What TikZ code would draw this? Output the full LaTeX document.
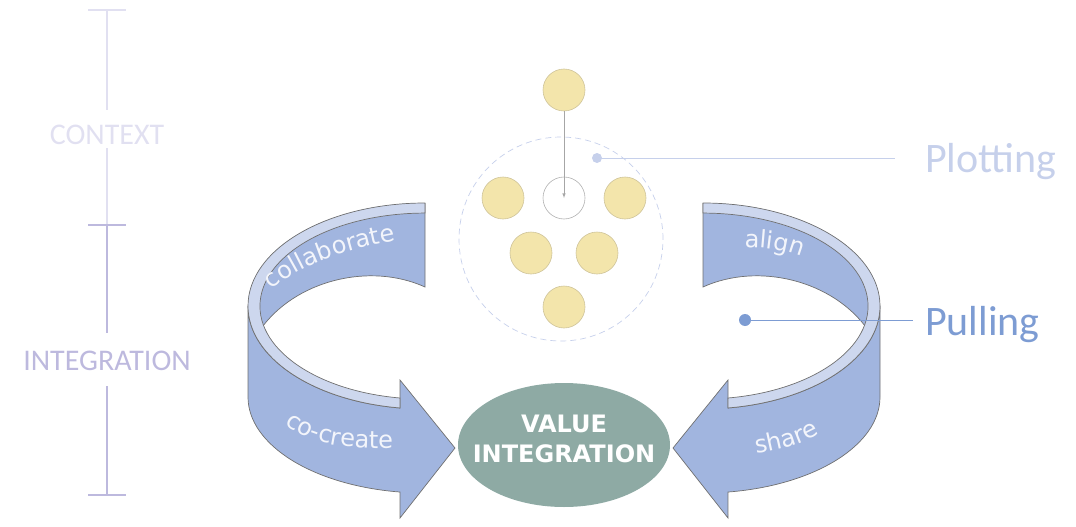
\documentclass[tikz,border=0pt]{standalone}
\usepackage{fontspec}
\setmainfont{Carlito}
\newfontfamily\ribbonfont{DejaVu Sans}
\usetikzlibrary{shapes.geometric,decorations.text}

\definecolor{bandblue}{HTML}{A1B5DF}
\definecolor{rimblue}{HTML}{CDD7EE}
\definecolor{edgegray}{HTML}{707070}
\definecolor{ribbontext}{HTML}{F3F5FB}
\definecolor{valuegreen}{HTML}{8EAAA4}
\definecolor{beadyellow}{HTML}{F3E5AB}
\definecolor{beadedge}{HTML}{CFC49A}
\definecolor{plotblue}{HTML}{C6D0EB}
\definecolor{pullblue}{HTML}{7D9CD3}
\definecolor{ctxlilac}{HTML}{E1E0F1}
\definecolor{intlilac}{HTML}{BDB9DE}

% one curled ribbon arrow, drawn for the left side
\newcommand{\curlarrow}{%
  % back band, seen from inside
  \fill[bandblue] (425,203) -- (425,287) .. controls (370,262) and (295,280) .. (260,330)
    -- (248,306) arc[start angle=180, end angle=90, x radius=177pt, y radius=103pt] -- cycle;
  \draw[edgegray, line width=0.7pt] (425,203) -- (425,287) .. controls (370,262) and (295,280) .. (260,330);
  % front band with its head
  \draw[band] (248,306) -- (248,397)
    arc[start angle=180, end angle=261.9, x radius=177pt, y radius=96pt]
    -- (400,518) -- (455,448) -- (400,380) -- (400,408)
    arc[start angle=261.9, end angle=180, x radius=177pt, y radius=103pt] -- cycle;
  % rim
  \draw[rim] (425,203) arc[start angle=90, end angle=261.9, x radius=177pt, y radius=103pt]
    -- (400,398) arc[start angle=261.3, end angle=90, x radius=165pt, y radius=93pt] -- cycle;
}

\begin{document}
\begin{tikzpicture}[x=1pt, y=-1pt, >=latex,
    band/.style={fill=bandblue, draw=edgegray, line width=0.7pt},
    rim/.style={fill=rimblue, draw=edgegray, line width=0.7pt},
    bead/.style={circle, minimum size=42pt, inner sep=0pt, fill=beadyellow, draw=beadedge, line width=0.6pt},
    slot/.style={circle, minimum size=42pt, inner sep=0pt, fill=white, draw=black!30, line width=0.6pt},
    ctxbar/.style={draw=ctxlilac, line width=1.6pt},
    intbar/.style={draw=intlilac, line width=1.6pt},
    barlabel/.style={font=\fontsize{30}{30}\selectfont, anchor=base, inner sep=0pt},
    sidelabel/.style={font=\fontsize{42}{42}\selectfont, anchor=base west, inner ysep=0pt},
    ribbon/.style={decorate, decoration={text along path, text align=center,
        text={|\ribbonfont\fontsize{24}{24}\selectfont\color{ribbontext}|#1}}}]
  \useasboundingbox (0,0) rectangle (1076,527);

  % scale bar
  \draw[ctxbar] (88,10) -- (126,10);
  \draw[ctxbar] (107,10) -- (107,110);
  \node[barlabel, text=ctxlilac] (context) at (107,144) {CONTEXT};
  \draw[ctxbar] (107,148) -- (107,225);
  \draw[intbar] (107,225) -- (107,333);
  \draw[intbar] (88,225) -- (126,225);
  \node[barlabel, text=intlilac] (integration) at (107,370) {INTEGRATION};
  \draw[intbar] (107,386) -- (107,495);
  \draw[intbar] (88,495) -- (126,495);

  % the two curls
  \curlarrow
  \begin{scope}[xshift=1128pt, xscale=-1]
    \curlarrow
  \end{scope}

  \path[ribbon=collaborate] (266,296) .. controls (290,270) and (330,252) .. (404,239);
  \path[ribbon=co-create] (272,413) .. controls (300,440) and (330,452) .. (410,447);
  \path[ribbon=align] (731,248) .. controls (760,246) and (790,249) .. (814,263);
  \path[ribbon=share] (744,455) .. controls (775,452) and (805,445) .. (830,427);

  \node[ellipse, fill=valuegreen, minimum width=212pt, minimum height=124pt, inner sep=0pt,
    text=white, align=center, font=\ribbonfont\bfseries\fontsize{24}{30}\selectfont]
    (value) at (564,445) {\makebox[0pt]{VALUE}\\\makebox[0pt]{INTEGRATION}\rule[-12pt]{0pt}{0pt}};

  % plotting
  \node[circle, draw=plotblue, dash pattern=on 6pt off 4pt, line width=0.7pt, minimum size=204pt] (field) at (561,239) {};
  \node[bead] (top) at (564,90) {};
  \node[slot] (slot) at (564,198) {};
  \node[bead] (b1) at (503,198) {};
  \node[bead] (b2) at (625,198) {};
  \node[bead] (b3) at (531,253) {};
  \node[bead] (b4) at (597,253) {};
  \node[bead] (b5) at (564,307) {};
  \draw[->, draw=black!35, line width=0.6pt] (top) -- (slot.center);

  \coordinate (pdot) at (597,158);
  \fill[plotblue] (pdot) circle (5pt);
  \node[sidelabel, text=plotblue, inner xsep=30pt] (plotting) at (895,172) {Plotting};
  \draw[plotblue, line width=1pt] (pdot) -- (pdot -| plotting.west);

  \coordinate (qdot) at (745,320);
  \fill[pullblue] (qdot) circle (6pt);
  \node[sidelabel, text=pullblue, inner xsep=12pt] (pulling) at (913,335) {Pulling};
  \draw[pullblue, line width=1pt] (qdot) -- (qdot -| pulling.west);
\end{tikzpicture}
\end{document}
